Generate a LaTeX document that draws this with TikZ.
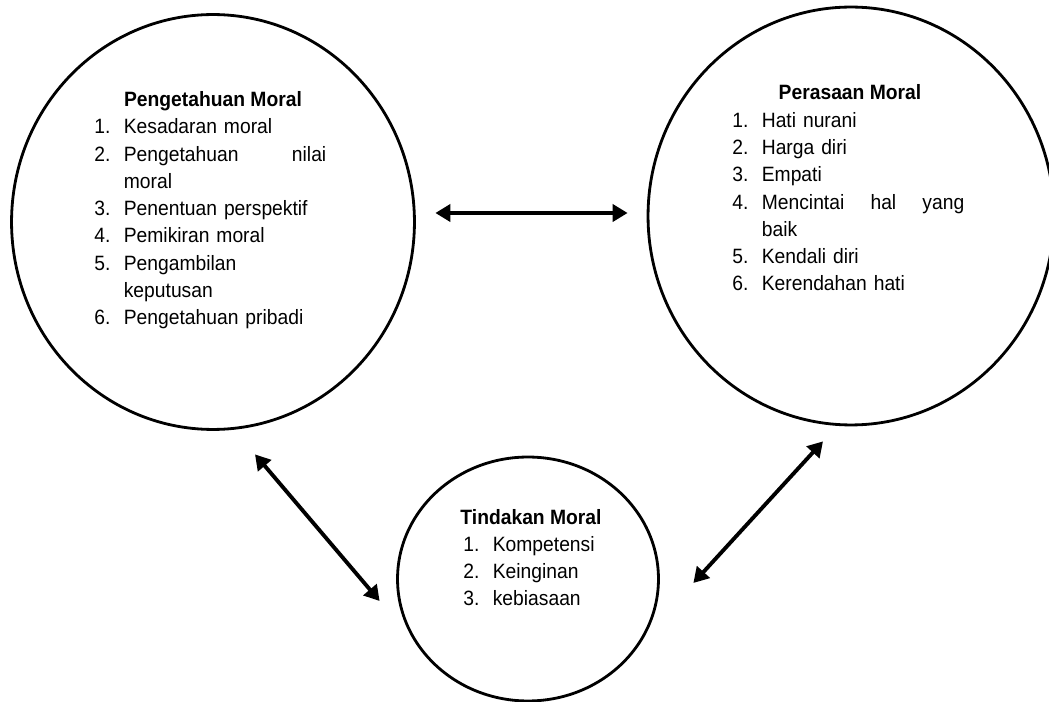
\documentclass[tikz,border=0pt]{standalone}
\usepackage{fontspec}
\setmainfont[FakeStretch=0.93]{Liberation Sans}
\usetikzlibrary{shapes.geometric, arrows.meta}

% numbered line with hanging indent
\newcommand{\itm}[2]{\hangindent=0.59cm\hangafter=1\noindent\makebox[0.59cm][l]{#1}#2\par}

\begin{document}
\begin{tikzpicture}[
    x=0.02cm, y=-0.02cm,
    oval/.style={ellipse, draw=black, line width=1.6pt, inner sep=0pt},
    heading/.style={anchor=base, inner sep=0pt, font=\fontsize{11.8}{15.5}\selectfont\bfseries},
    itemlist/.style={anchor=base west, inner sep=0pt, text width=4.64cm, font=\fontsize{11.8}{15.5}\selectfont},
    arrow/.style={{Triangle[length=0.3cm, width=0.34cm]}-{Triangle[length=0.3cm, width=0.34cm]}, line width=2.2pt}
]
\useasboundingbox (0,0) rectangle (1049,702);

% Circles
\node[oval, minimum width=8.06cm, minimum height=8.3cm] (know) at (213,222) {};
\node[oval, minimum width=8.12cm, minimum height=8.36cm] (feel) at (851,216) {};
\node[oval, minimum width=5.22cm, minimum height=4.88cm] (act) at (528,579) {};

% Pengetahuan
\node[heading] (knowtitle) at (213,107) {Pengetahuan Moral};
\node[itemlist] (knowlist) at (94,134) {%
  \itm{1.}{Kesadaran moral}%
  \itm{2.}{Pengetahuan\hfill nilai\break moral}%
  \itm{3.}{Penentuan perspektif}%
  \itm{4.}{Pemikiran moral}%
  \itm{5.}{Pengambilan\hfil\break keputusan}%
  \itm{6.}{Pengetahuan pribadi}};

% Perasaan
\node[heading] (feeltitle) at (850,100) {Perasaan Moral};
\node[itemlist] (feellist) at (732,127.5) {%
  \itm{1.}{Hati nurani}%
  \itm{2.}{Harga diri}%
  \itm{3.}{Empati}%
  \itm{4.}{Mencintai\hfill hal\hfill yang\break baik}%
  \itm{5.}{Kendali diri}%
  \itm{6.}{Kerendahan hati}};

% Tindakan
\node[heading] (acttitle) at (531,525) {Tindakan Moral};
\node[itemlist] (actlist) at (463,551.5) {%
  \itm{1.}{Kompetensi}%
  \itm{2.}{Keinginan}%
  \itm{3.}{kebiasaan}};

% Arrows
\draw[arrow] ([shift={(19.5,-9)}]know.east) -- ([shift={(-19,-3)}]feel.west);
\draw[arrow] ([shift={(42,23.5)}]know.south) -- ([shift={(-16.5,22)}]act.west);
\draw[arrow] ([shift={(-28,15)}]feel.south) -- ([shift={(33.5,4)}]act.east);

\end{tikzpicture}
\end{document}
